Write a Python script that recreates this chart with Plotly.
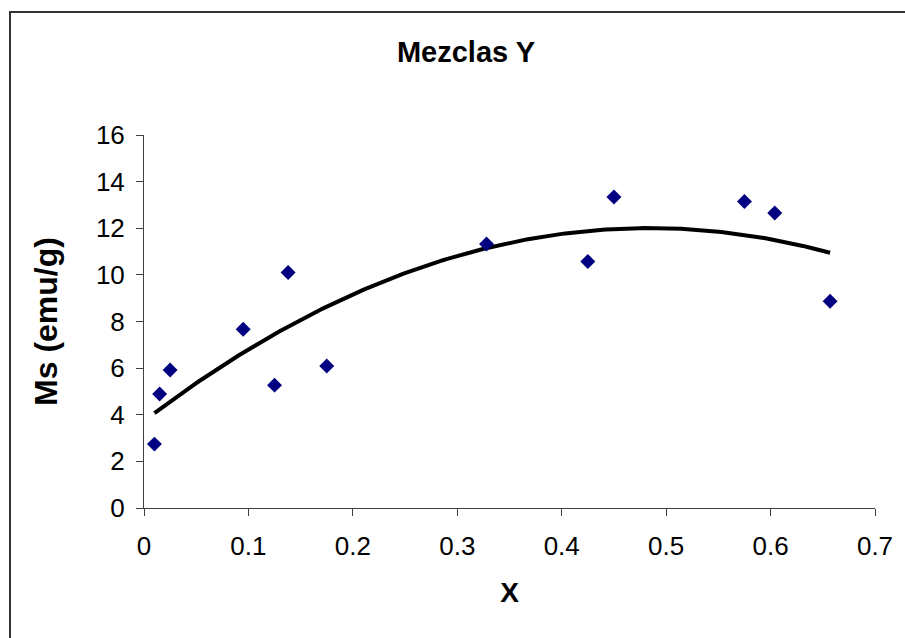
import numpy as np
import plotly.graph_objects as go

# Measured samples: composition X vs saturation magnetisation Ms
x_vals = [0.010, 0.015, 0.025, 0.095, 0.125, 0.138, 0.175, 0.328, 0.425, 0.450, 0.575, 0.604, 0.657]
ms_vals = [2.74, 4.89, 5.92, 7.67, 5.27, 10.10, 6.09, 11.32, 10.57, 13.34, 13.15, 12.65, 8.87]

x_ticks = [0, 0.1, 0.2, 0.3, 0.4, 0.5, 0.6, 0.7]
y_ticks = [0, 2, 4, 6, 8, 10, 12, 14, 16]

# Second-order polynomial trendline fitted to the samples
coef = np.polyfit(x_vals, ms_vals, 2)
x_fit = np.linspace(min(x_vals), max(x_vals), 200)
y_fit = np.polyval(coef, x_fit)

FONT = "Liberation Sans, Arial, sans-serif"

fig = go.Figure()
fig.add_trace(go.Scatter(
    x=x_fit, y=y_fit, mode="lines",
    line=dict(color="black", width=4),
    hoverinfo="skip", showlegend=False,
))
fig.add_trace(go.Scatter(
    x=x_vals, y=ms_vals, mode="markers",
    marker=dict(symbol="diamond", size=11.5, color="#000080", line=dict(width=0)),
    showlegend=False,
))

axis_common = dict(
    showgrid=False, zeroline=False, showline=True,
    linecolor="#404040", linewidth=1,
    ticks="outside", ticklen=7, tickcolor="#404040", tickwidth=1,
    tickfont=dict(family=FONT, size=26, color="black"),
)

fig.update_layout(
    width=905, height=638,
    margin=dict(l=144, r=30, t=135, b=130),
    paper_bgcolor="white", plot_bgcolor="white",
    title=dict(
        text="<b>Mezclas Y</b>",
        font=dict(family=FONT, size=29, color="black"),
        xref="container", x=466 / 905, xanchor="center",
        yref="container", y=1 - 52 / 638, yanchor="middle",
    ),
    xaxis=dict(
        range=[0, 0.7], tickvals=x_ticks, ticktext=[f"{v:g}" for v in x_ticks],
        ticklabelstandoff=8,
        title=dict(text="<b>X</b>", font=dict(family=FONT, size=28, color="black"), standoff=22),
        **axis_common,
    ),
    yaxis=dict(
        range=[0, 16], tickvals=y_ticks,
        ticklabelstandoff=6,
        title=dict(text="<b>Ms (emu/g)</b>", font=dict(family=FONT, size=32, color="black"), standoff=28),
        **axis_common,
    ),
    shapes=[dict(
        type="rect", xref="paper", yref="paper",
        x0=(10 - 144) / 731, x1=1.2, y0=-0.6, y1=(508 - 12) / 373,
        line=dict(color="#333333", width=2), fillcolor="rgba(0,0,0,0)", layer="below",
    )],
)

fig.write_html("out.html")
